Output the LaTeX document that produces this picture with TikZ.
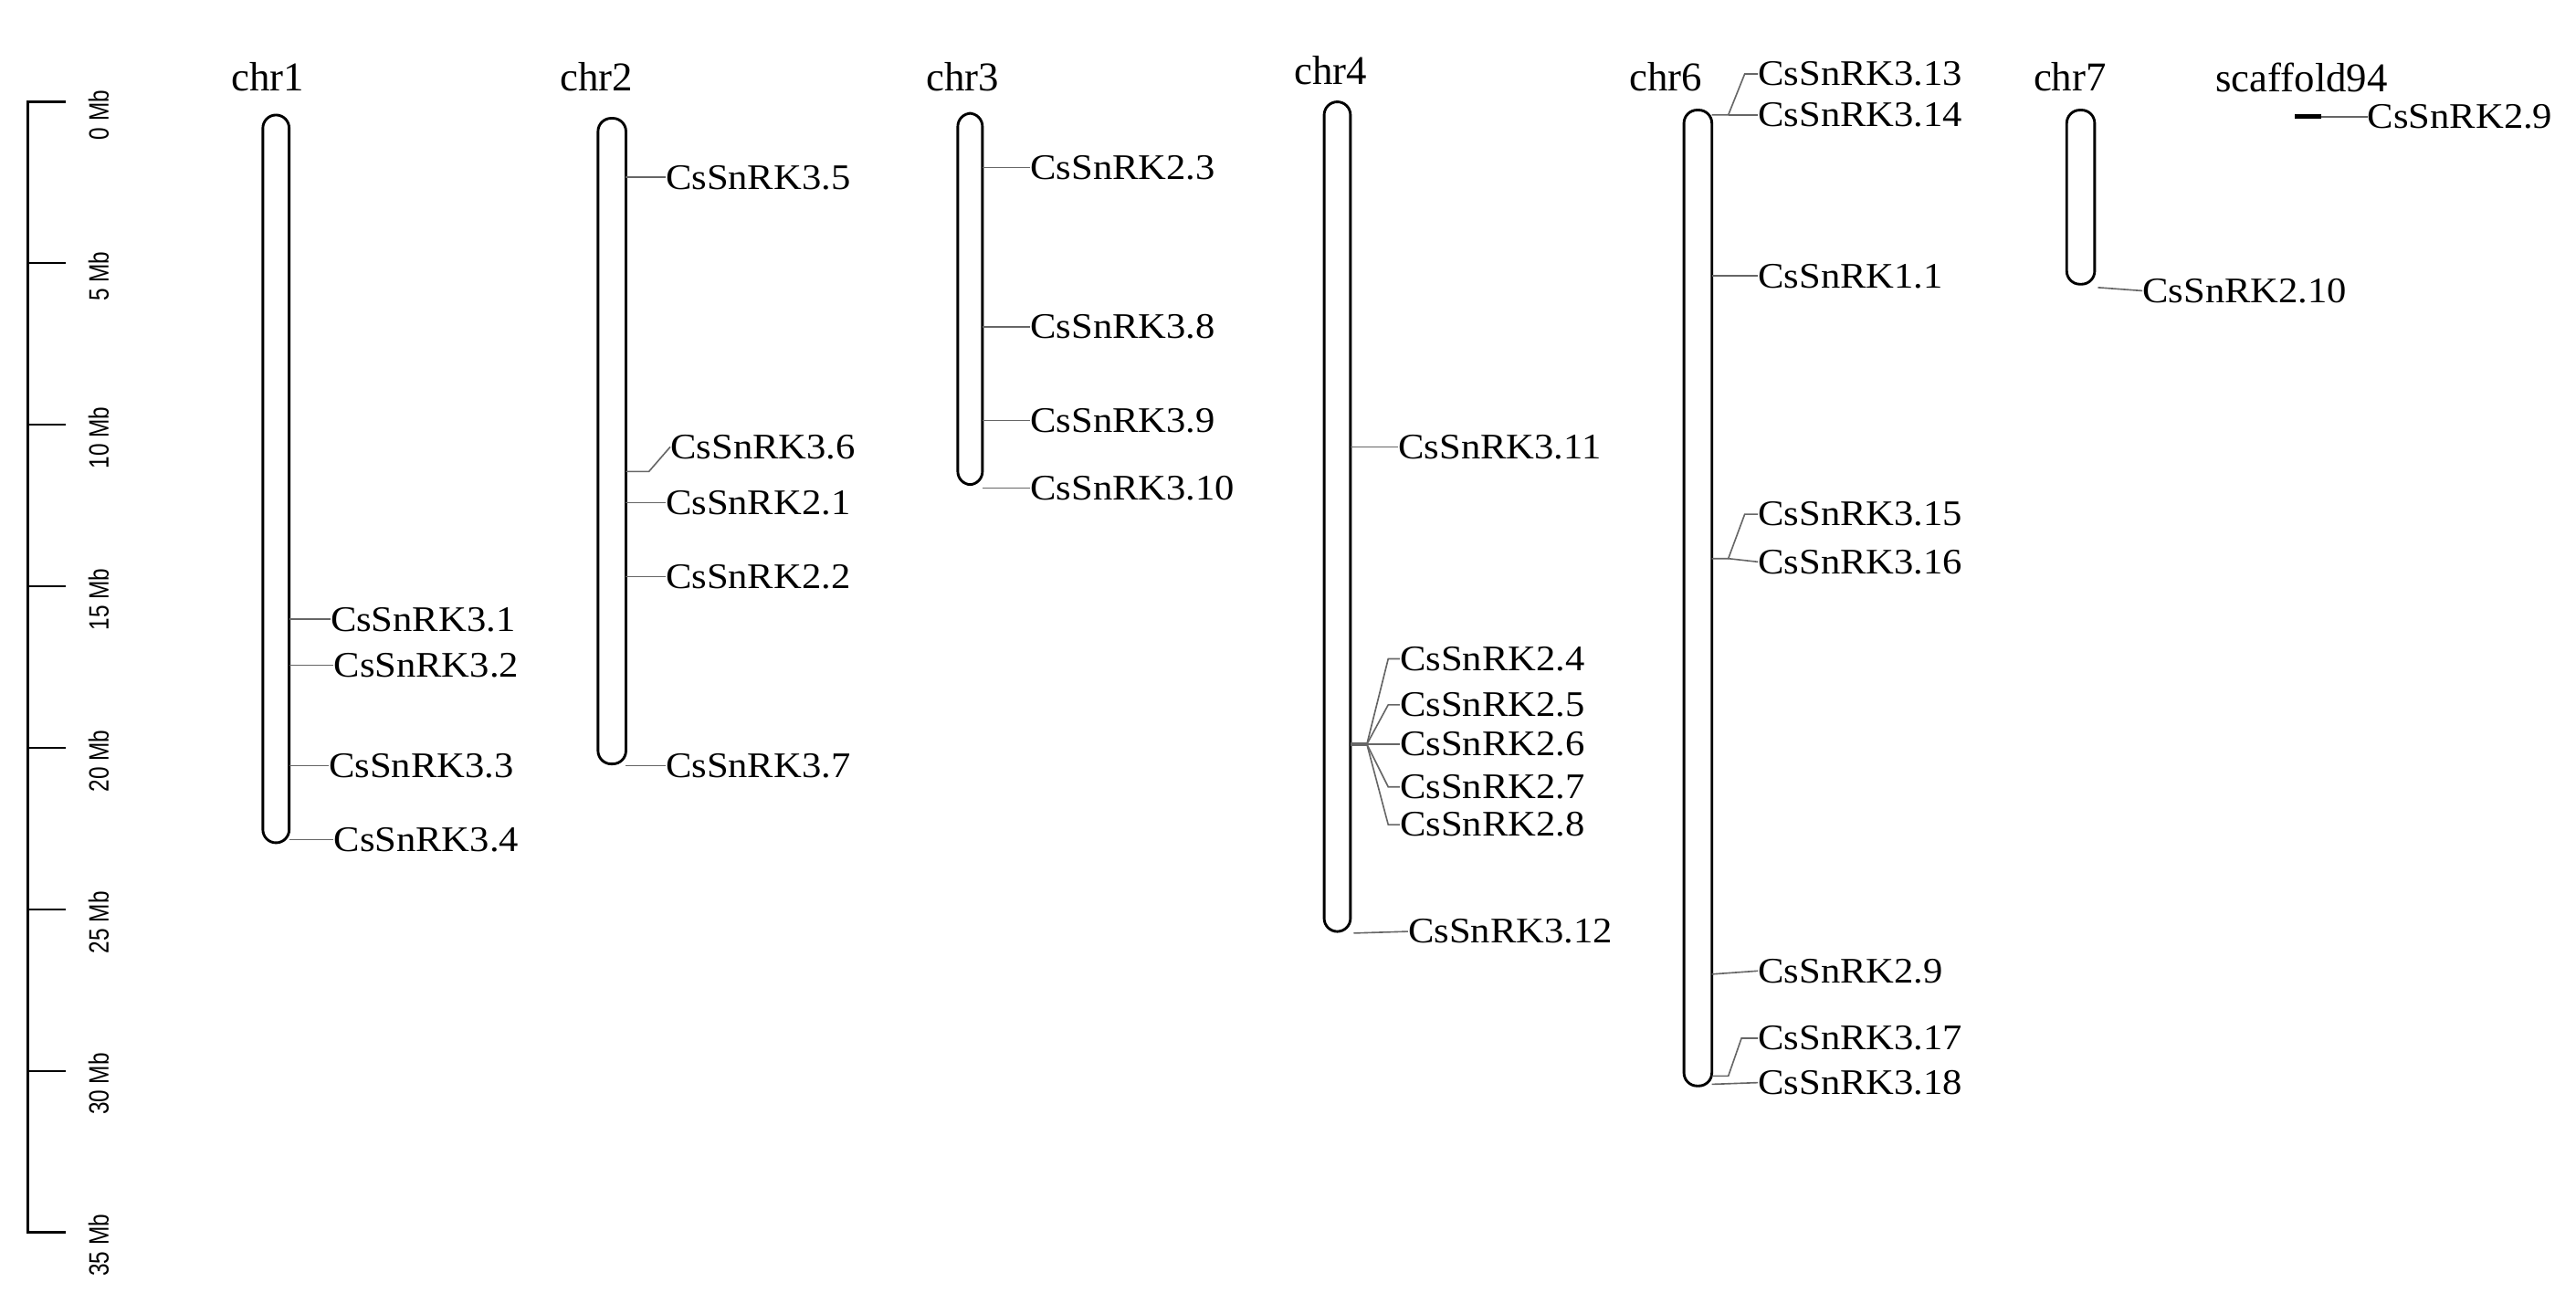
\documentclass[tikz,border=0pt]{standalone}
\usepackage{fontspec}
\setmainfont{Liberation Serif}
\newfontfamily\scalefont{Liberation Sans}
\begin{document}
\begin{tikzpicture}[x=1bp,y=-1bp,
  chrom/.style={draw=black,line width=1.6bp,rounded corners=8bp},
  gl/.style={anchor=west,inner sep=0pt,font=\fontsize{22}{22}\selectfont,xscale=1.08},
  cl/.style={inner sep=0pt,font=\fontsize{25}{25}\selectfont},
  gline/.style={draw=gray!80!black,line width=0.9bp},
  sl/.style={rotate=90,inner sep=0pt,font=\scalefont\fontsize{17}{17}\selectfont,xscale=0.8}]
\useasboundingbox (0,0) rectangle (1568,787);
% scale bar
\draw[line width=1.4bp] (40,62) -- (17,62) -- (17,750) -- (40,750);
\foreach \i in {0,...,7}{
  \pgfmathsetmacro\yy{62+\i*98.3}
  \draw[line width=1.2bp] (17,\yy) -- (40,\yy);
  \pgfmathtruncatemacro\mb{\i*5}
  \node[sl] (s\i) at (60,\yy+8) {\mb\ Mb};
}
% chromosomes
\draw[chrom] (160,70) rectangle (176,513); \node[cl] (c1) at (163,47) {chr1};
\draw[chrom] (364,72) rectangle (381,465); \node[cl] (c2) at (363,47) {chr2};
\draw[chrom] (583,69) rectangle (598,295); \node[cl] (c3) at (586,47) {chr3};
\draw[chrom] (806,62) rectangle (822,567); \node[cl] (c4) at (810,43) {chr4};
\draw[chrom] (1025,67) rectangle (1042,661); \node[cl] (c6) at (1014,47) {chr6};
\draw[chrom] (1258,67) rectangle (1275,173); \node[cl] (c7) at (1260,47) {chr7};
\node[cl] (sc) at (1401,47) {scaffold94};
\draw[line width=2.5bp] (1397,71) -- (1413,71);
% chr1
\foreach \y/\t/\n/\lx in {377/3.1/a/201, 405/3.2/b/203, 466/3.3/c/200, 511/3.4/d/203}{
  \node[gl] (g\n) at (\lx,\y) {CsSnRK\t};
  \draw[gline] (176,\y) -- (g\n.west);
}
% chr2
\foreach \y/\t/\n in {108/3.5/a, 306/2.1/b, 351/2.2/c, 466/3.7/d}{
  \node[gl] (h\n) at (405,\y) {CsSnRK\t};
  \draw[gline] (381,\y) -- (h\n.west);
}
\node[gl] (he) at (408,272) {CsSnRK3.6};
\draw[gline] (381,287) -- (395,287) -- (he.west);
% chr3
\foreach \y/\t/\n in {102/2.3/a, 199/3.8/b, 256/3.9/c, 297/3.10/d}{
  \node[gl] (k\n) at (627,\y) {CsSnRK\t};
  \draw[gline] (598,\y) -- (k\n.west);
}
% chr4
\node[gl] (mx) at (851,272) {CsSnRK3.11};
\draw[gline] (822,272) -- (mx.west);
\node[gl] (my) at (857,567) {CsSnRK3.12};
\draw[gline] (824,568) -- (my.west);
\coordinate (fan) at (832,453);
\draw[gline,line width=1.8bp] (822,453) -- (fan);
\foreach \y/\t/\n in {401/2.4/a, 429/2.5/b, 453/2.6/c, 479/2.7/d, 502/2.8/e}{
  \node[gl] (m\n) at (852,\y) {CsSnRK\t};
  \draw[gline] (fan) -- (845,\y) -- (m\n.west);
}
% chr6
\node[gl] (na) at (1070,45) {CsSnRK3.13};
\node[gl] (nb) at (1070,70) {CsSnRK3.14};
\draw[gline] (1042,70) -- (1052,70) -- (1062,45) -- (na.west);
\draw[gline] (1052,70) -- (nb.west);
\node[gl] (nc) at (1070,168) {CsSnRK1.1};
\draw[gline] (1042,168) -- (nc.west);
\node[gl] (nd) at (1070,313) {CsSnRK3.15};
\node[gl] (ne) at (1070,342) {CsSnRK3.16};
\draw[gline] (1042,340) -- (1052,340) -- (1062,313) -- (nd.west);
\draw[gline] (1052,340) -- (ne.west);
\node[gl] (nf) at (1070,591) {CsSnRK2.9};
\draw[gline] (1042,593) -- (nf.west);
\node[gl] (ng) at (1070,632) {CsSnRK3.17};
\node[gl] (nh) at (1070,659) {CsSnRK3.18};
\draw[gline] (1042,655) -- (1052,655) -- (1060,632) -- (ng.west);
\draw[gline] (1042,660) -- (nh.west);
% chr7
\node[gl] (pa) at (1304,177) {CsSnRK2.10};
\draw[gline] (1277,175) -- (pa.west);
% scaffold
\node[gl] (qa) at (1441,71) {CsSnRK2.9};
\draw[gline] (1413,71) -- (qa.west);
\end{tikzpicture}
\end{document}
